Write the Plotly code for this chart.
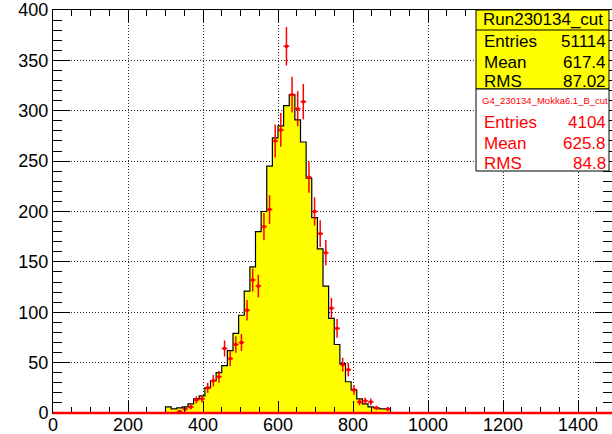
import plotly.graph_objects as go

# ---- data ----
bin_width = 15
hist_start = 300
# yellow histogram (Run230134_cut), bins from 300 to 900
data_counts = [6, 4, 5, 6, 9, 14, 17, 25, 32, 40,
               47, 62, 79, 97, 121, 145, 180, 200, 245, 273,
               285, 305, 316, 291, 269, 233, 194, 163, 126, 94,
               68, 49, 31, 23, 14, 9, 6, 5, 4, 4]
# red points (G4_230134_Mokka6.1_B_cut), same bins
mc_counts = [0, 0, 1.5, 4, 6, 13, 14, 25, 32, 36,
             64, 54, 68, 70, 102, 132, 126, 185, 202, 270,
             281, 364, 316, 302, 309, 234, 200, 178, 159, 104,
             84, 48, 43, 23, 11, 12, 11, 5, 0, 4]
mc_errors = [0, 0, 1.2, 2.0, 2.4, 3.6, 3.7, 5.0, 5.7, 6.0,
             8.0, 7.3, 8.2, 8.4, 10.1, 11.5, 11.2, 13.6, 14.2, 16.4,
             16.8, 19.1, 17.8, 17.4, 17.6, 15.3, 14.1, 13.3, 12.6, 10.2,
             9.2, 6.9, 6.6, 4.8, 3.3, 3.5, 3.3, 2.2, 0, 2.0]
x_max = 1500

stats1_title = "Run230134_cut"
stats1 = [("Entries", "51114"), ("Mean", "617.4"), ("RMS", "87.02")]
stats2_title = "G4_230134_Mokka6.1_B_cut"
stats2 = [("Entries", "4104"), ("Mean", "625.8"), ("RMS", "84.8")]

# ---- build traces ----
nb = len(data_counts)
edges = [hist_start + i * bin_width for i in range(nb + 1)]
hx = [edges[0]] + edges[:-1] + [edges[-1], edges[-1]]
hy = [0] + data_counts + [data_counts[-1], 0]

centers = [hist_start + (i + 0.5) * bin_width for i in range(nb)]
pts = [(c, v, e) for c, v, e in zip(centers, mc_counts, mc_errors) if v > 0]

fig = go.Figure()
fig.add_trace(go.Scatter(
    x=hx, y=hy, mode="lines", line=dict(shape="hv", color="black", width=1.2),
    fill="tozeroy", fillcolor="#ffff00", showlegend=False, hoverinfo="skip"))
fig.add_trace(go.Scatter(
    x=[p[0] for p in pts], y=[p[1] for p in pts], mode="markers",
    marker=dict(color="#ff0000", size=3, symbol="square"),
    error_y=dict(type="data", array=[p[2] for p in pts], color="#ff0000", thickness=1.5, width=0),
    error_x=dict(type="constant", value=bin_width / 2, color="#ff0000", thickness=1.5, width=0),
    cliponaxis=False, showlegend=False))

# ---- layout geometry ----
W, H = 612, 434
L, R, T, B = 53, 0, 10, 21
px_per_unit = 0.375
xr = (W - L - R) / px_per_unit

fig.update_layout(
    width=W, height=H, margin=dict(l=L, r=R, t=T, b=B, pad=0, autoexpand=False),
    plot_bgcolor="white", paper_bgcolor="white",
    font=dict(family="Liberation Sans, Arial", size=18, color="black"),
)
grid = dict(showgrid=True, gridcolor="#222222", gridwidth=1, griddash="1px,2px")
fig.update_xaxes(range=[0, xr], dtick=200, tick0=0, ticks="inside", ticklen=12,
                 tickcolor="black", showline=True, linecolor="black", linewidth=1,
                 mirror="ticks", zeroline=False, automargin=False, ticklabelstandoff=-5,
                 minor=dict(dtick=50, ticks="inside", ticklen=6, tickcolor="black", showgrid=False),
                 **grid)
fig.update_yaxes(range=[0, 400], dtick=50, tick0=0, ticks="inside", ticklen=17,
                 tickcolor="black", showline=True, linecolor="black", linewidth=1,
                 mirror="ticks", zeroline=False, automargin=False,
                 minor=dict(dtick=10, ticks="inside", ticklen=9, tickcolor="black", showgrid=False),
                 **grid)

# ---- stats boxes (pixel -> paper) ----
pw, ph = W - L - R, H - T - B
def px(x):
    return (x - L) / pw
def py(y):
    return (H - B - y) / ph

bx0, bx1 = 476, 609
shapes = [
    # red zero-level error bars of the empty bins (drawn over the axis line)
    dict(type="line", xref="paper", yref="paper", x0=0, x1=1, y0=0, y1=0,
         line=dict(color="#ff0000", width=2.5), layer="above"),
    dict(type="rect", xref="paper", yref="paper", x0=px(bx0), x1=px(bx1), y0=py(89), y1=py(10),
         fillcolor="#ffff00", line=dict(color="black", width=1)),
    dict(type="line", xref="paper", yref="paper", x0=px(bx0), x1=px(bx1), y0=py(30), y1=py(30),
         line=dict(color="black", width=1)),
    dict(type="rect", xref="paper", yref="paper", x0=px(bx0), x1=px(bx1), y0=py(171), y1=py(89),
         fillcolor="white", line=dict(color="black", width=1)),
]
fig.update_layout(shapes=shapes)

ann = []
ann.append(dict(x=px((bx0 + bx1) / 2), y=py(19.5), text=stats1_title, showarrow=False,
                xref="paper", yref="paper", xanchor="center", yanchor="middle",
                font=dict(size=17, color="black")))
for (k, v), yy in zip(stats1, [42, 62, 81.5]):
    ann.append(dict(x=px(482), y=py(yy), text=k, showarrow=False, xref="paper", yref="paper",
                    xanchor="left", yanchor="middle", font=dict(size=17, color="black")))
    ann.append(dict(x=px(607.5), y=py(yy), text=v, showarrow=False, xref="paper", yref="paper",
                    xanchor="right", yanchor="middle", font=dict(size=17, color="black")))
ann.append(dict(x=px(545), y=py(100.5), text=stats2_title, showarrow=False,
                xref="paper", yref="paper", xanchor="center", yanchor="middle",
                font=dict(size=9.5, color="#ff0000")))
for (k, v), yy in zip(stats2, [123, 143, 163]):
    ann.append(dict(x=px(482), y=py(yy), text=k, showarrow=False, xref="paper", yref="paper",
                    xanchor="left", yanchor="middle", font=dict(size=17, color="#ff0000")))
    ann.append(dict(x=px(607.5), y=py(yy), text=v, showarrow=False, xref="paper", yref="paper",
                    xanchor="right", yanchor="middle", font=dict(size=17, color="#ff0000")))
fig.update_layout(annotations=ann)

fig.write_html("out.html")
